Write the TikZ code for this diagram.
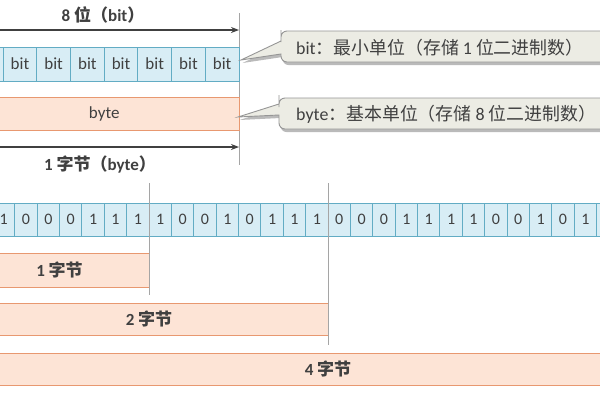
\documentclass[tikz,border=0pt]{standalone}
\usepackage{fontspec}
\setmainfont{Carlito}
\newfontfamily\cjk{Noto Sans CJK SC}
\usetikzlibrary{arrows.meta,shadows}
\definecolor{cellfill}{RGB}{216,237,245}
\definecolor{celldraw}{RGB}{98,172,196}
\definecolor{bytefill}{RGB}{253,228,214}
\definecolor{bytedraw}{RGB}{232,152,112}
\definecolor{calfill}{RGB}{236,236,228}
\definecolor{caldraw}{RGB}{150,150,150}
\definecolor{txt}{RGB}{64,64,64}
\definecolor{guide}{RGB}{165,165,165}
\begin{document}
\begin{tikzpicture}[x=1pt,y=-1pt,
  bitcell/.style={draw=celldraw, fill=cellfill, line width=1pt, minimum width=33.7pt,
    minimum height=34pt, inner sep=0pt, text=txt, font=\fontsize{17}{20}\selectfont},
  bincell/.style={bitcell, minimum width=22.375pt, minimum height=33pt,
    font=\fontsize{16}{19}\selectfont},
  bytebox/.style={draw=bytedraw, fill=bytefill, line width=1pt, inner sep=0pt,
    text=txt, font=\fontsize{17}{20}\selectfont},
  guideline/.style={draw=guide, line width=0.9pt},
  dimarrow/.style={draw=txt, line width=1.3pt, -{Stealth[length=8pt,width=6pt]}},
  title/.style={text=txt, font=\fontsize{17}{20}\selectfont\bfseries, inner sep=0pt},
  callout/.style={draw=caldraw, fill=calfill, line width=0.9pt,
    drop shadow={shadow xshift=1.5pt, shadow yshift=-3pt, fill=black!45, opacity=0.6}},
  caltext/.style={text=txt, font=\fontsize{17.9}{21}\selectfont, inner sep=0pt, anchor=west}
]
\useasboundingbox (0,0) rectangle (600,400);
\fill[white] (0,0) rectangle (600,400);

% ---------- top section ----------
\coordinate (g1t) at (239,13);
\coordinate (g1b) at (239,165);
\draw[guideline] (g1t) -- (g1b);

\coordinate (a1s) at (-5,30);
\coordinate (a1e) at (239,30);
\draw[dimarrow] (a1s) -- (a1e);
\node[title] (ttl1) at (103,15) {8 {\cjk 位（}bit{\cjk ）}};

\foreach \t [count=\i from 0] in {{},bit,bit,bit,bit,bit,bit,bit}
  \node[bitcell] (t\i) at ({-30.6+33.7*(\i+0.5)}, 64) {\t};

\node[bytebox, minimum width=269.6pt, minimum height=33pt] (byte) at (104.2,113.5) {byte};

\coordinate (a2s) at (-5,147);
\coordinate (a2e) at (239,147);
\draw[dimarrow] (a2s) -- (a2e);
\node[title] (ttl2) at (100,164) {1 {\cjk 字节（}byte{\cjk ）}};

% callout 1
\coordinate (c1tip) at (241,60);
\draw[callout] (c1tip) -- (281,54) -- (281,57) [rounded corners=6pt] -- (281,62) -- (660,62)
  -- (660,31) -- (281,31) -- (281,36) [sharp corners] -- (281,41) -- cycle;
\node[caltext] (c1) at (296,48) {bit{\cjk ：最小单位（存储} 1 {\cjk 位二进制数）}};

% callout 2
\coordinate (c2tip) at (238,117);
\draw[callout] (c2tip) -- (279,115) -- (279,120) [rounded corners=6pt] -- (279,129) -- (660,129)
  -- (660,98) -- (279,98) -- (279,101) [sharp corners] -- (279,104) -- cycle;
\node[caltext] (c2) at (296,114) {byte{\cjk ：基本单位（存储} 8 {\cjk 位二进制数）}};

% ---------- bottom section ----------
\coordinate (g2t) at (149,183);
\coordinate (g2b) at (149,295);
\coordinate (g3t) at (328,183);
\coordinate (g3b) at (328,345);
\draw[guideline] (g2t) -- (g2b);
\draw[guideline] (g3t) -- (g3b);

\foreach \d [count=\k from 0] in {{},1,0,0,0,1,1,1,1,0,0,1,0,1,1,1,0,0,0,1,1,1,1,0,0,1,0,1,{}}
  \node[bincell] (n\k) at ({-30+22.375*(\k+0.5)}, 219.5) {\d};

\node[bytebox, minimum width=179pt, minimum height=34pt, font=\fontsize{17}{20}\selectfont\bfseries]
  (b1) at (59.5,270) {1 {\cjk 字节}};
\node[bytebox, minimum width=358pt, minimum height=32pt, font=\fontsize{17}{20}\selectfont\bfseries]
  (b2) at (149,319) {2 {\cjk 字节}};
\node[bytebox, minimum width=716pt, minimum height=32pt, font=\fontsize{17}{20}\selectfont\bfseries]
  (b4) at (328,369) {4 {\cjk 字节}};

% guide lines over the boxes where they cross
\draw[guideline] (g2t) -- (g2b);
\draw[guideline] (g3t) -- (g3b);
\end{tikzpicture}
\end{document}
